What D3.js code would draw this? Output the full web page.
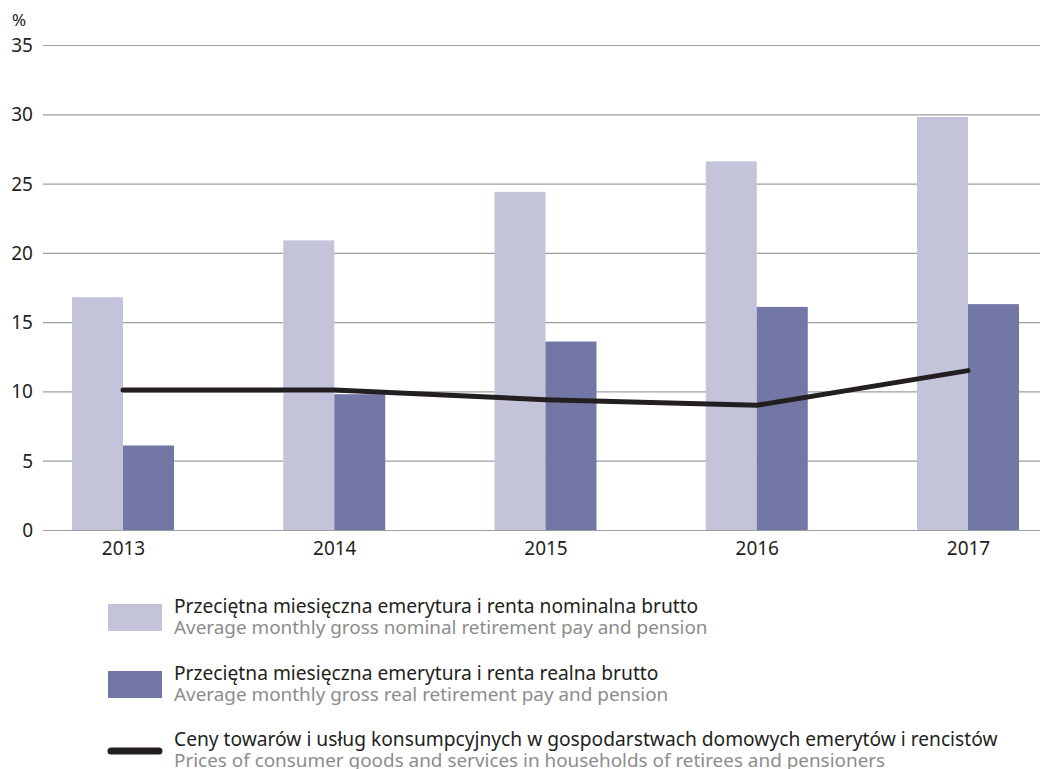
<!DOCTYPE html>
<html>
<head>
<meta charset="utf-8">
<script src="https://cdn.jsdelivr.net/npm/d3@7"></script>
<style>
  body { margin: 0; background: #fff; }
  text { font-family: "Noto Sans", sans-serif; }
</style>
</head>
<body>
<svg id="chart"></svg>
<script>
const years = ["2013", "2014", "2015", "2016", "2017"];
const nominal = [16.8, 20.9, 24.4, 26.6, 29.8];
const real = [6.1, 9.8, 13.6, 16.1, 16.3];
const prices = [10.1, 10.1, 9.4, 9.0, 11.5];
const yTicks = [0, 5, 10, 15, 20, 25, 30, 35];
const seriesKeys = ["nominal", "real"];
const legendPl = [
  "Przeciętna miesięczna emerytura i renta nominalna brutto",
  "Przeciętna miesięczna emerytura i renta realna brutto",
  "Ceny towarów i usług konsumpcyjnych  w gospodarstwach domowych emerytów i rencistów"
];
const legendEn = [
  "Average monthly gross nominal retirement pay and pension",
  "Average monthly gross real retirement pay and pension",
  "Prices of consumer goods and services in households of retirees and pensioners"
];

const W = 1040, H = 769;
const colors = { nominal: "#c3c3d9", real: "#7377a5" };
const ink = "#231f20";

const svg = d3.select("#chart")
  .attr("width", W)
  .attr("height", H);

const y = d3.scaleLinear()
  .domain([0, 35])
  .range([530, 45]);

const x = d3.scalePoint()
  .domain(years)
  .range([123, 968]);

const xSub = d3.scaleBand()
  .domain(seriesKeys)
  .range([-51, 51]);

// gridlines
svg.append("g")
  .attr("transform", "translate(43,0)")
  .call(d3.axisLeft(y).tickValues(yTicks).tickSize(-(W - 43)).tickFormat(""))
  .call(g => g.select(".domain").remove())
  .call(g => g.selectAll(".tick line").attr("stroke", "#9c9ea2").attr("stroke-width", 1.2));

// y tick labels
svg.append("g")
  .selectAll("text")
  .data(yTicks)
  .enter()
  .append("text")
  .attr("x", 33)
  .attr("y", d => y(d) + 7)
  .attr("text-anchor", "end")
  .attr("font-size", 19)
  .attr("fill", ink)
  .text(d => d);

svg.append("text")
  .attr("x", 19)
  .attr("y", 26)
  .attr("text-anchor", "middle")
  .attr("font-size", 17)
  .attr("fill", ink)
  .text("%");

// bars
const rows = years.map((yr, i) => ({ year: yr, nominal: nominal[i], real: real[i] }));

svg.append("g")
  .selectAll("g")
  .data(rows)
  .enter()
  .append("g")
  .attr("transform", d => `translate(${x(d.year)},0)`)
  .selectAll("rect")
  .data(d => seriesKeys.map(k => ({ key: k, value: d[k] })))
  .enter()
  .append("rect")
  .attr("x", d => xSub(d.key))
  .attr("y", d => y(d.value))
  .attr("width", xSub.bandwidth())
  .attr("height", d => y(0) - y(d.value))
  .attr("fill", d => colors[d.key]);

// x labels
svg.append("g")
  .attr("transform", "translate(0,530)")
  .call(d3.axisBottom(x).tickSize(0).tickPadding(12))
  .call(g => g.select(".domain").remove())
  .call(g => g.selectAll("text")
    .attr("font-size", 19)
    .attr("font-family", "Noto Sans, sans-serif")
    .attr("fill", ink));

// price line
const line = d3.line()
  .x((d, i) => x(years[i]))
  .y(d => y(d));

svg.append("path")
  .datum(prices)
  .attr("d", line)
  .attr("fill", "none")
  .attr("stroke", ink)
  .attr("stroke-width", 5)
  .attr("stroke-linecap", "round")
  .attr("stroke-linejoin", "round");

// legend
const legendBase = [613, 680, 746];
const legend = svg.append("g");

legendBase.forEach((ly, i) => {
  if (i < 2) {
    legend.append("rect")
      .attr("x", 108)
      .attr("y", ly - 9)
      .attr("width", 54)
      .attr("height", 27)
      .attr("fill", colors[seriesKeys[i]]);
  } else {
    legend.append("line")
      .attr("x1", 111)
      .attr("x2", 159)
      .attr("y1", ly + 5)
      .attr("y2", ly + 5)
      .attr("stroke", ink)
      .attr("stroke-width", 7)
      .attr("stroke-linecap", "round");
  }
  legend.append("text")
    .attr("x", 174)
    .attr("y", ly)
    .attr("font-size", 19.2)
    .attr("fill", ink)
    .text(legendPl[i]);
  legend.append("text")
    .attr("x", 174)
    .attr("y", ly + 21)
    .attr("font-size", 18.9)
    .attr("fill", "#8c8c8c")
    .text(legendEn[i]);
});
</script>
</body>
</html>
